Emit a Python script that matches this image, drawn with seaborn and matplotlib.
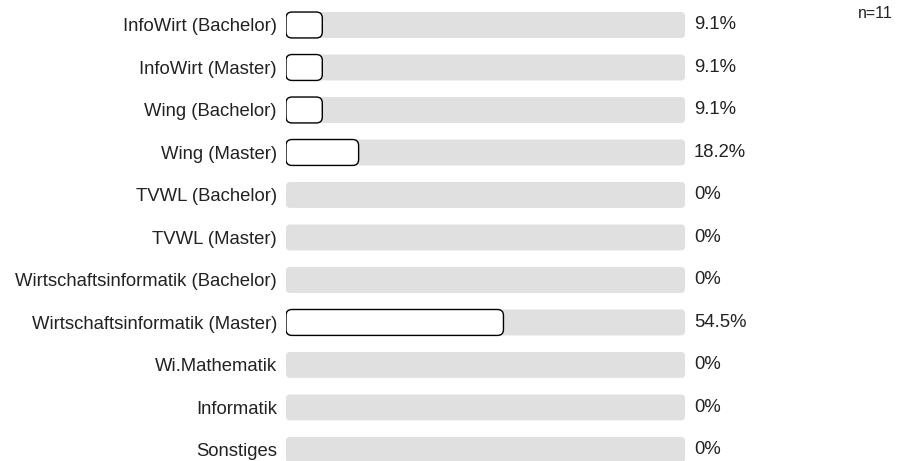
import seaborn as sns
import pandas as pd
import matplotlib
matplotlib.use('Agg')
from matplotlib import pyplot as plt
from matplotlib.patches import FancyBboxPatch

kategorien = ['InfoWirt (Bachelor)', 'InfoWirt (Master)', 'Wing (Bachelor)', 'Wing (Master)',
              'TVWL (Bachelor)', 'TVWL (Master)', 'Wirtschaftsinformatik (Bachelor)',
              'Wirtschaftsinformatik (Master)', 'Wi.Mathematik', 'Informatik', 'Sonstiges']
prozent = [9.1, 9.1, 9.1, 18.2, 0, 0, 0, 54.5, 0, 0, 0]
gesamt = [100] * len(kategorien)
n_text = 'n=11'

df = pd.DataFrame({'Kategorie': kategorien, 'Prozent': prozent, 'Gesamt': gesamt})

sns.set_style('white')
plt.rcParams['font.family'] = ['Liberation Sans', 'DejaVu Sans']

fig = plt.figure(figsize=(9.07, 4.61), dpi=100)
ax = fig.add_axes([286 / 907, 0, 399 / 907, 1])

# Hintergrund-Balken (100%) und eigentliche Werte
sns.barplot(data=df, x='Gesamt', y='Kategorie', orient='h', color='#e0e0e0', width=0.61, ax=ax)
n_bg = len(ax.patches)
sns.barplot(data=df, x='Prozent', y='Kategorie', orient='h', color='white', width=0.61, ax=ax)

ax.set_xlim(0, 100)
ax.set_ylim(10.26, -0.588)

aspekt = 3.99 / 42.5
alte = list(ax.patches)
for i, p in enumerate(alte):
    x, y, w, h = p.get_x(), p.get_y(), p.get_width(), p.get_height()
    p.remove()
    if w <= 0:
        continue
    if i < n_bg:
        box = FancyBboxPatch((x, y), w, h, boxstyle='round,pad=0,rounding_size=1.0',
                             mutation_aspect=aspekt, facecolor='#e0e0e0', edgecolor='none', zorder=1)
    else:
        box = FancyBboxPatch((x, y), w, h, boxstyle='round,pad=0,rounding_size=1.5',
                             mutation_aspect=aspekt, facecolor='white', edgecolor='black',
                             linewidth=1.0, zorder=2)
    ax.add_patch(box)

for i, v in enumerate(prozent):
    ax.annotate('{:g}%'.format(v), xy=(100, i), xytext=(6.5, 0), textcoords='offset points',
                ha='left', va='center', fontsize=13.3, color='#222222')

ax.set_xlabel('')
ax.set_ylabel('')
ax.set_xticks([])
ax.tick_params(axis='y', length=0, pad=6.5, labelsize=13.3, labelcolor='#222222')
sns.despine(ax=ax, left=True, bottom=True)

fig.text(893 / 907, 1 - 14 / 461, n_text, ha='right', va='center', fontsize=11.5, color='#222222')

plt.savefig('out.png', dpi=100)
